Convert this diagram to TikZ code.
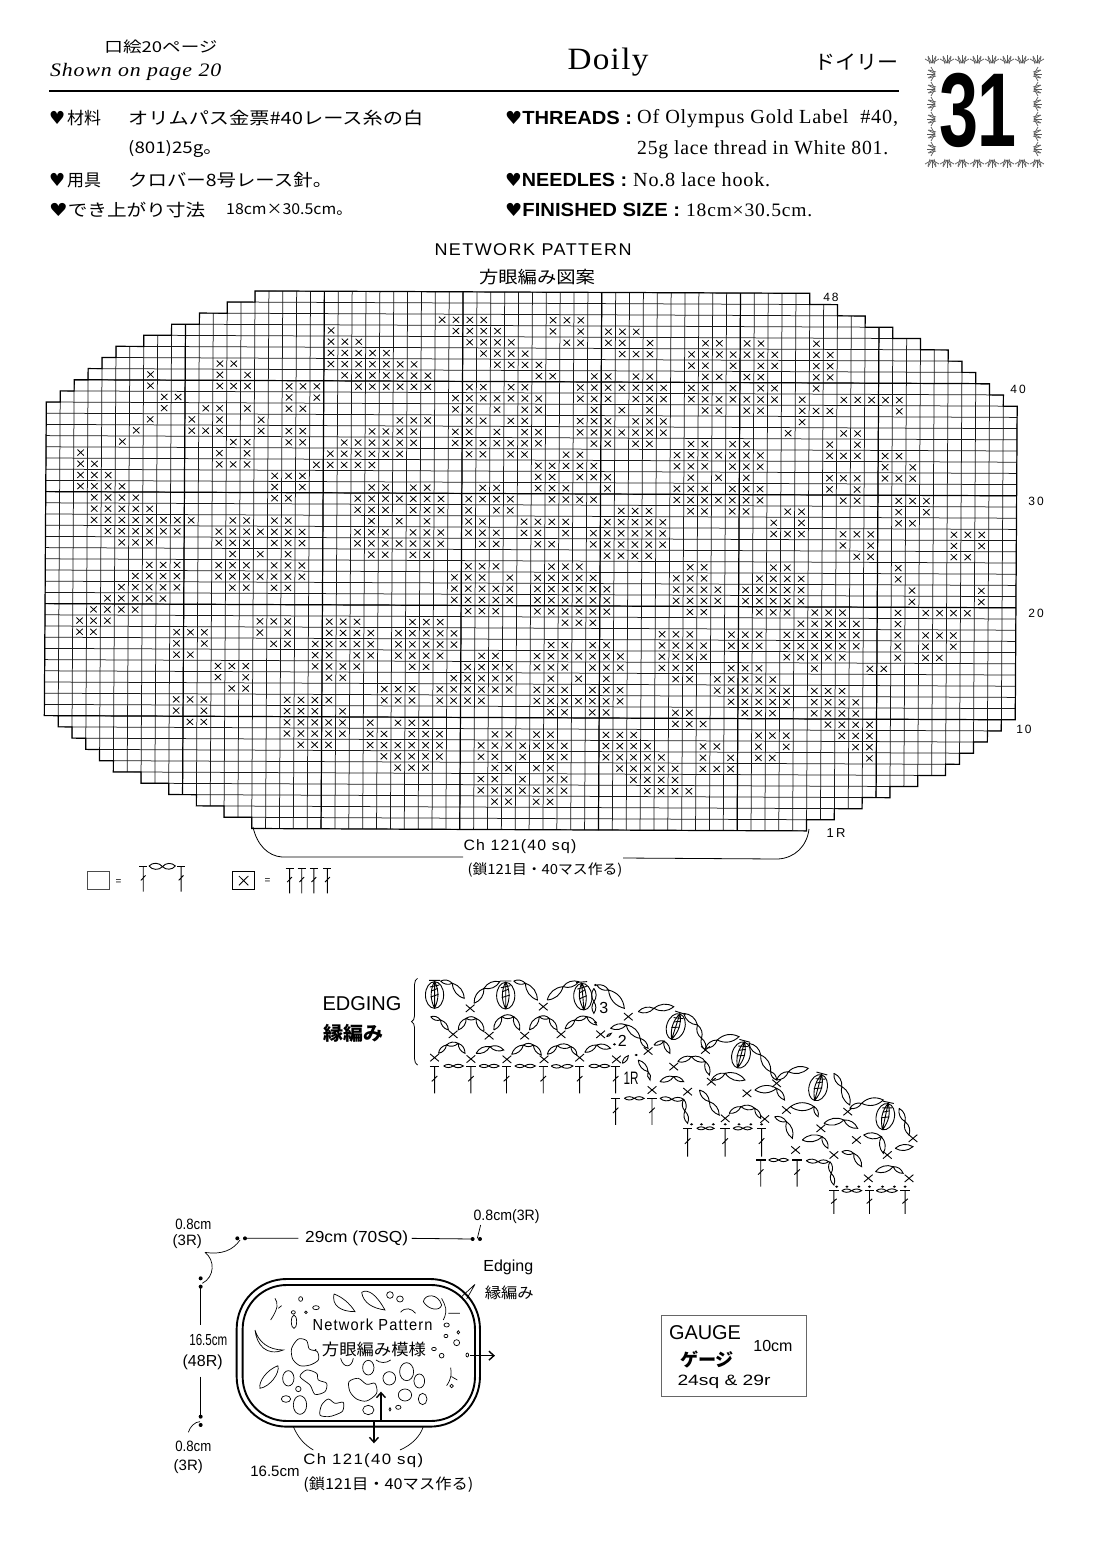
\documentclass[tikz,border=0pt]{standalone}
\usepackage{fontspec}
\setmainfont{Liberation Serif}
\setsansfont{Liberation Sans}
\newfontfamily\jpfont{Noto Sans CJK JP}
\newfontfamily\symfont{DejaVu Sans}
\newfontfamily\spserif{Liberation Serif}[LetterSpace=4]
\newfontfamily\spsans{Liberation Sans}[LetterSpace=8]
\usetikzlibrary{positioning,decorations.pathreplacing,arrows.meta}
\newcommand{\sz}[1]{\fontsize{#1}{#1}\selectfont}
\newcommand{\fitw}[2]{\resizebox{#1pt}{\height}{#2}}
\newcommand{\hrt}{{\symfont\sz{18}♥}}
\newcommand{\tstitch}[3]{%
  \draw[stitch] (#1,#2)--(#1,#2+#3) (#1-7,#2+#3*0.55)--(#1+7,#2+#3*0.35);
  \draw[line width=1.3pt] (#1-12,#2)--(#1+12,#2);}
\newcommand{\scstitch}[2]{%
  \draw[stitch] (#1-11,#2-11)--(#1+11,#2+11) (#1-11,#2+11)--(#1+11,#2-11);}
\newcommand{\shellst}[3]{%
  \begin{scope}[shift={(#1,#2)},rotate=#3]
    \draw[stitch] (0,0) ellipse [x radius=23,y radius=40];
    \draw[stitch] (0,-42) to[bend left=25] (0,40) (0,-42) to[bend right=25] (0,40) (0,-42)--(0,40);
    \draw[stitch] (-14,-44)--(14,-44) (-8,-12)--(8,-20) (-10,6)--(10,-2) (-12,-24)--(12,-30);
  \end{scope}}
\newcommand{\tulip}[3]{%
  \begin{scope}[shift={(#1,#2)},rotate=#3]
    \foreach \a in {-60,-30,0,30,60}
      \draw[ornament] (0,4)--++(\a-90:8);
    \draw[ornament] (-4,-2)--(-2,5) (4,-2)--(2,5);
  \end{scope}}
\def\stairpath{(15,0)--(15,1)--(13,1)--(13,2)--(11,2)--(11,3)--(9,3)--(9,4)--(7,4)--(7,5)--(5,5)--(5,6)--(4,6)--(4,7)--(3,7)--(3,8)--(2,8)--(2,9)--(1,9)--(1,10)--(0,10)
  --(0,38)--(1,38)--(1,39)--(2,39)--(2,40)--(3,40)--(3,41)--(4,41)--(4,42)--(5,42)--(5,43)--(7,43)--(7,44)--(9,44)--(9,45)--(11,45)--(11,46)--(13,46)--(13,47)--(15,47)--(15,48)
  --(55,48)--(55,47)--(57,47)--(57,46)--(59,46)--(59,45)--(61,45)--(61,44)--(63,44)--(63,43)--(65,43)--(65,42)--(66,42)--(66,41)--(67,41)--(67,40)--(68,40)--(68,39)--(69,39)--(69,38)--(70,38)
  --(70,10)--(69,10)--(69,9)--(68,9)--(68,8)--(67,8)--(67,7)--(66,7)--(66,6)--(65,6)--(65,5)--(63,5)--(63,4)--(61,4)--(61,3)--(59,3)--(59,2)--(57,2)--(57,1)--(55,1)--(55,0)--cycle}

\begin{document}
\begin{tikzpicture}[x=1pt,y=-1pt,
  txt/.style={inner sep=0,anchor=west},
  ctr/.style={inner sep=0,anchor=center},
  gridthin/.style={line width=0.75pt,black!90},
  gridthick/.style={line width=1.2pt,black},
  crossmark/.style={line width=0.8pt,black},
  stitch/.style={line width=0.9pt,black},
  chainloop/.style={line width=0.9pt,black},
  ornament/.style={line width=0.7pt,black!65},
  motif/.style={line width=0.7pt,black},
 ]
\useasboundingbox (0,0) rectangle (1100,1543);

% heading
\node[ctr] (pageja) at (161,47) {\fitw{113}{\jpfont\sz{15}口絵20ページ}};
\node[txt] (pageen) at (50,72) {\fitw{171}{\spserif\itshape\sz{19}Shown on page 20}};
\node[ctr] (title) at (608,62) {\fitw{81}{\spserif\sz{31}Doily}};
\node[ctr] (titleja) at (856,62) {\fitw{84}{\jpfont\sz{20}ドイリー}};
\draw[line width=1.1pt] (49,91)--(899,91);

% number panel
\foreach \x in {932,947,...,1037} {\tulip{\x}{59}{0} \tulip{\x}{164}{180}}
\foreach \y in {74,89,...,150} {\tulip{931}{\y}{90} \tulip{1038}{\y}{-90}}
\node[ctr] (number) at (978,110) {\fitw{78}{\bfseries\sffamily\sz{105}31}};

% materials
\node[txt] (matA) at (49,118) {\hrt\,\jpfont\sz{17}材料};
\node[txt] (matB) at (128,118) {\fitw{295}{\jpfont\sz{17}オリムパス金票\#40レース糸の白}};
\node[txt] (matC) at (128,149) {\fitw{94}{\jpfont\sz{16}(801)25g。}};
\node[txt] (toolA) at (49,180) {\hrt\,\jpfont\sz{17}用具};
\node[txt] (toolB) at (128,180) {\fitw{204}{\jpfont\sz{17}クロバー8号レース針。}};
\node[txt] (sizeA) at (49,210) {\fitw{156}{\hrt\jpfont\sz{17}でき上がり寸法}};
\node[txt] (sizeB) at (226,210) {\fitw{126}{\jpfont\sz{15}18cm×30.5cm。}};
\node[txt] (thrA) at (505,118) {\fitw{127}{\hrt\bfseries\sffamily\sz{19}THREADS :}};
\node[txt] (thrB) at (637,119) {\fitw{261}{\spserif\sz{20}Of Olympus Gold Label\ \ \#40,}};
\node[txt] (thrC) at (637,150) {\fitw{251}{\spserif\sz{20}25g lace thread in White 801.}};
\node[txt] (needA) at (505,180) {\fitw{122}{\hrt\bfseries\sffamily\sz{19}NEEDLES :}};
\node[txt] (needB) at (633,180) {\fitw{137}{\spserif\sz{20}No.8 lace hook.}};
\node[txt] (finA) at (505,210) {\fitw{175}{\hrt\bfseries\sffamily\sz{19}FINISHED SIZE :}};
\node[txt] (finB) at (686,210) {\fitw{126}{\spserif\sz{19}18cm×30.5cm.}};

\node[ctr] (nettitle) at (533,250) {\fitw{197}{\spsans\sz{17}NETWORK PATTERN}};
\node[ctr] (nettitleja) at (537,277) {\fitw{116}{\jpfont\sz{17}方眼編み図案}};

% chart
\begin{scope}[shift={(47,290)},x={(13.87pt,-0.06pt)},y={(-0.07pt,-11.2pt)}]
  \begin{scope}
    \clip \stairpath;
    \foreach \c in {0,...,70} \draw[gridthin] (\c,0)--(\c,48);
    \foreach \r in {0,...,48} \draw[gridthin] (0,\r)--(70,\r);
    \foreach \c in {10,20,...,60} \draw[gridthick] (\c,0)--(\c,48);
    \foreach \r in {8,18,28,38} \draw[gridthick] (0,\r)--(70,\r);
  \end{scope}
  \draw[gridthick] \stairpath;
  \foreach \t/\cols in {
    3/{29,30,31,32,37,38,39},
    4/{21,30,31,32,33,37,39,41,42,43},
    5/{21,22,23,31,32,33,34,38,39,41,42,44,48,49,51,52,56},
    6/{21,22,23,24,25,32,33,34,35,42,43,44,47,48,49,50,51,52,53,56,57},
    7/{13,14,21,22,23,24,25,26,27,33,34,35,36,47,48,50,52,53,56,57},
    8/{8,13,15,22,23,24,25,26,27,28,36,37,40,41,43,44,48,49,51,52,56,57},
    9/{8,13,14,15,18,19,20,23,24,25,26,27,28,31,32,34,35,39,40,41,42,43,44,45,47,48,50,52,53,56},
    10/{9,10,18,20,30,31,32,33,34,35,36,39,40,41,43,44,45,47,48,49,50,51,52,53,55,58,59,60,61,62},
    11/{9,12,13,15,18,19,30,31,33,35,36,40,42,44,48,49,51,52,55,56,57,62},
    12/{8,11,13,16,26,27,28,31,32,34,35,39,40,41,43,44,45,55},
    13/{7,11,12,13,16,18,19,24,25,26,27,30,31,33,35,36,39,40,41,42,43,44,45,54,58,59},
    14/{6,14,15,18,19,22,23,24,25,26,27,30,31,32,33,34,35,36,40,41,43,44,47,48,50,51,57,59},
    15/{3,13,15,21,22,23,24,25,26,31,32,34,35,38,39,46,47,48,49,50,51,52,57,58,59,61,62},
    16/{3,4,13,14,15,20,21,22,23,24,36,37,38,39,40,46,47,48,50,51,52,61,63},
    17/{3,4,5,17,18,19,36,37,39,40,41,47,49,51,57,58,59,61,62,63},
    18/{3,4,5,6,17,19,24,25,27,28,32,33,36,37,38,41,46,47,48,50,51,52,57,59},
    19/{4,5,6,7,17,18,23,24,25,26,27,28,29,31,32,33,34,37,38,39,40,46,47,48,49,50,51,52,58,59,62,63,64},
    20/{4,5,6,7,8,23,24,25,27,28,29,31,33,34,42,43,44,47,48,50,51,54,55,62,64},
    21/{4,5,6,7,8,9,10,11,14,15,17,18,24,26,28,31,32,35,36,37,38,41,42,43,44,45,53,55,62,63},
    22/{5,6,7,8,9,10,13,14,15,16,17,18,19,23,24,25,27,28,29,31,32,33,35,36,38,40,41,42,43,44,45,53,54,55,58,59,60,66,67,68},
    23/{6,7,8,13,14,15,17,18,19,23,24,25,26,27,28,29,32,33,36,37,40,41,42,43,44,45,58,60,66,68},
    24/{14,16,18,24,25,27,28,41,42,43,44,59,60,66,67},
    25/{8,9,10,13,14,15,17,18,19,31,32,33,37,38,39,47,48,53,54,62},
    26/{7,8,9,10,13,14,15,16,17,18,19,30,31,32,34,36,37,38,39,40,46,47,48,52,53,54,55,62},
    27/{6,7,8,9,10,14,15,17,18,30,31,32,33,34,36,37,38,39,40,41,46,47,48,49,51,52,53,54,55,63,68},
    28/{5,6,7,8,9,30,31,32,33,34,36,37,38,39,40,41,46,47,48,49,51,52,53,54,55,63,68},
    29/{4,5,6,7,31,32,33,36,37,38,39,40,41,47,48,52,53,54,56,57,58,62,64,65,66,67},
    30/{3,4,5,16,17,18,21,22,23,27,28,29,38,39,40,55,56,57,58,59,62},
    31/{3,4,10,11,12,16,18,21,22,23,24,26,27,28,29,30,45,46,47,50,51,52,54,55,56,57,58,59,62,64,65,66},
    32/{10,12,17,18,20,21,22,23,24,26,27,28,29,30,37,38,40,41,45,46,47,48,50,51,52,54,55,56,57,58,59,62,64,66},
    33/{10,11,20,21,23,24,26,27,28,29,32,33,36,37,38,39,40,41,42,45,46,47,48,54,55,56,57,58,62,64,65},
    34/{13,14,15,20,21,22,23,27,28,31,32,33,34,36,37,38,40,41,42,45,46,47,50,51,52,56,60,61},
    35/{13,15,21,22,30,31,32,33,34,37,39,41,46,47,49,50,51,52,53},
    36/{14,15,25,26,27,29,30,31,32,33,34,36,37,38,40,41,42,49,50,51,52,53,54,56,57,58},
    37/{10,11,12,18,19,20,21,25,26,27,29,30,31,32,36,37,38,39,40,41,42,50,51,52,53,54,56,57,58,59},
    38/{10,12,18,19,20,22,37,38,40,41,46,47,51,52,53,56,57,58,59},
    39/{11,12,18,19,20,21,22,24,26,27,28,46,47,48,57,58,59,60},
    40/{18,19,20,21,22,24,25,27,28,29,33,34,36,37,41,42,43,52,53,54,58,59,60},
    41/{19,20,21,24,25,26,27,28,29,32,33,34,35,36,37,38,41,42,43,44,48,49,52,54,59,60},
    42/{25,26,27,28,29,32,33,35,37,38,41,42,43,44,45,48,50,52,53,60},
    43/{26,27,28,33,34,36,37,42,43,44,45,46,48,49,50},
    44/{32,33,35,37,38,43,44,45,46},
    45/{32,33,34,35,36,37,38,44,45,46,47},
    46/{33,34,36,37}}
  {
    \foreach \c in \cols
      \draw[crossmark] (\c-0.73,\t-0.77)--(\c-0.27,\t-0.23) (\c-0.73,\t-0.23)--(\c-0.27,\t-0.77);
  }
\end{scope}

% row labels
\node[ctr] (rowA) at (831,297) {\sffamily\sz{12}4\,8};
\node[ctr] (rowB) at (1018,389) {\sffamily\sz{12}4\,0};
\node[ctr] (rowC) at (1036,501) {\sffamily\sz{12}3\,0};
\node[ctr] (rowD) at (1036,613) {\sffamily\sz{12}2\,0};
\node[ctr] (rowE) at (1024,729) {\sffamily\sz{12}1\,0};
\node[ctr] (rowF) at (836,833) {\sffamily\sz{13}1\,R};

% foundation chain
\coordinate (chainL) at (253,827);
\coordinate (chainR) at (809,829);
\node[ctr] (chtext) at (520,847) {\fitw{113}{\spsans\sz{15}Ch 121(40 sq)}};
\node[ctr] (chtextja) at (545,870) {\fitw{155}{\jpfont\sz{14}(鎖121目・40マス作る)}};
\draw[line width=0.8pt] (chainL) .. controls (257,845) and (268,856) .. (282,857)--(463,857);
\draw[line width=0.8pt] (623,858)--(778,859) .. controls (795,858) and (807,846) .. (chainR);

% symbol key
\begin{scope}[shift={(30,570)},x=0.338pt,y=-0.3333pt]
  \draw[line width=0.8pt,black!70] (170,903) rectangle (235,957);
  \node[ctr] (eqA) at (262,935) {\sffamily\sz{10}=};
  \tstitch{335}{890}{75}
  \tstitch{447}{890}{75}
  \draw[chainloop] (352,888) to[bend left=50] (392,890) to[bend left=50] (352,888);
  \draw[chainloop] (392,890) to[bend left=50] (430,888) to[bend left=50] (392,890);
  \draw[line width=0.9pt] (600,905) rectangle (663,958);
  \draw[crossmark] (618,918)--(646,946) (618,946)--(646,918);
  \node[ctr] (eqB) at (703,933) {\sffamily\sz{10}=};
  \foreach \x in {768,804,840,880} {\tstitch{\x}{895}{75}}
\end{scope}

% edging chart
\node[ctr] (edginglabel) at (362,1004) {\fitw{79}{\sffamily\sz{20}EDGING}};
\node[ctr] (edginglabelja) at (353,1033) {\fitw{60}{\jpfont\bfseries\sz{19}縁編み}};
\begin{scope}[shift={(310,965)},x=0.3954pt,y=-0.3333pt]
  \coordinate (bracelow) at (272,300);
  \coordinate (bracehigh) at (272,40);
  \draw[line width=0.8pt,decorate,decoration={brace,amplitude=6pt}] (bracelow)--(bracehigh);
  \foreach \x in {315,407,497,590,682,773} {\tstitch{\x}{305}{80}}
  \foreach \x in {773,865} {\tstitch{\x}{400}{80}}
  \foreach \x in {955,1050,1142} {\tstitch{\x}{490}{85}}
  \foreach \x in {1140,1232} {\tstitch{\x}{585}{80}}
  \foreach \x in {1325,1415,1505} {\tstitch{\x}{677}{70}}
  \foreach \x/\y in {315/278,407/282,498/283,592/283,682/278,775/283,362/208,453/212,543/212,635/208,735/208,
      405/130,590/125,805/155,1000/255,1180/355,1360/440,1525/520,855/258,920/305,1015/350,1105/385,1205/435,
      1292/490,1382/525,1460/570,865/375,955/380,1050/460,1150/462,1228/555,1325/570,1412/640,1515/640}
    {\scstitch{\x}{\y}}
  \foreach \x/\y/\a in {315/90/0,495/92/0,690/95/5,925/185/-18,1090/270/-15,1285/368/-15,1455/455/-12}
    {\shellst{\x}{\y}{\a}}
  \foreach \a/\b/\c/\d in {
    338/303/362/303, 362/303/388/303, 428/303/452/303, 452/303/478/303, 518/303/543/303, 543/303/570/303,
    610/303/636/305, 636/305/665/303, 705/303/732/303, 732/303/758/303,
    795/400/820/400, 820/400/845/400, 885/400/915/403, 915/403/945/403, 945/403/948/438, 948/438/955/475,
    978/490/1000/490, 1000/490/1022/490, 1070/490/1095/490, 1095/490/1118/490,
    1160/585/1185/585, 1185/585/1210/585, 1255/587/1285/590, 1285/590/1312/590, 1315/590/1318/625, 1318/625/1325/660,
    1345/677/1370/677, 1370/677/1395/677, 1432/677/1458/677, 1458/677/1485/677,
    325/265/345/240, 345/240/375/235, 375/235/392/265, 420/265/455/245, 455/245/490/255,
    510/268/540/240, 540/240/565/240, 565/240/585/270, 600/268/625/242, 625/242/660/245, 660/245/675/270,
    695/262/725/240, 725/240/760/250, 305/155/330/165, 330/165/350/195, 375/195/395/160, 395/160/420/160, 420/160/440/200,
    465/195/485/155, 485/155/515/155, 515/155/530/195, 555/195/580/155, 580/155/605/160, 605/160/625/195,
    645/192/670/165, 670/165/700/155, 700/155/725/180, 330/48/360/55, 360/55/390/100, 415/115/440/70, 440/70/480/50,
    515/48/545/55, 545/55/575/105, 600/105/640/65, 640/65/680/50, 725/60/755/75, 755/75/795/130,
    718/70/718/110, 718/110/718/145, 830/140/870/130, 870/130/920/125, 945/145/980/180, 980/180/990/220, 990/220/1000/255,
    1000/250/1030/225, 1030/225/1085/215, 1110/235/1140/270, 1140/270/1165/320, 1165/320/1180/345,
    1180/345/1210/320, 1210/320/1260/310, 1325/325/1345/365, 1345/365/1365/420, 1365/430/1395/415, 1395/415/1450/405,
    1490/430/1505/470, 1505/470/1515/510, 760/190/800/180, 800/180/835/220, 835/220/855/250, 870/240/895/228, 895/228/910/265,
    930/290/965/275, 965/275/1000/290, 1000/290/1010/330, 1015/345/1050/325, 1050/325/1100/345, 1125/375/1180/370, 1180/370/1200/405,
    1215/425/1275/425, 1275/425/1285/455, 1300/475/1350/465, 1350/465/1385/490, 1400/510/1445/515, 1445/515/1450/565,
    1480/550/1525/545, 830/285/855/320, 855/320/860/345, 885/350/920/335, 920/335/945/350,
    985/375/1010/410, 1010/410/1035/450, 1060/445/1090/425, 1090/425/1125/430, 1125/430/1140/460,
    1175/455/1205/470, 1205/470/1220/520, 1245/525/1295/515, 1295/515/1310/550, 1345/560/1375/565, 1375/565/1395/605,
    1430/620/1475/605, 1475/605/1500/625, 790/295/805/272, 750/215/762/205}
    {\draw[chainloop] (\a,\b) to[bend left=35] (\c,\d) to[bend left=35] (\a,\b);}
  \foreach \x/\y in {722/172,722/60,770/238,825/270,965/478,990/478,1020/478,1050/478,1085/478,1115/478,1142/478,
      1332/665,1358/665,1388/665,1415/665,1448/665,1478/665,1505/665}
    \fill (\x,\y) circle [x radius=4,y radius=3.5];
  \node[ctr] (rowthree) at (743,130) {\sffamily\sz{16}3};
  \node[ctr] (rowtwo) at (790,228) {\sffamily\sz{16}2};
  \node[ctr] (rowone) at (812,340) {\fitw{15}{\sffamily\sz{18}1R}};
\end{scope}

% layout sketch
\begin{scope}[shift={(150,1195)},x=0.3333pt,y=-0.3333pt]
  \coordinate (dimTLa) at (262,130);
  \coordinate (dimTLb) at (285,130);
  \coordinate (dimTRa) at (968,132);
  \coordinate (dimTRb) at (990,132);
  \coordinate (dimLTa) at (152,250);
  \coordinate (dimLTb) at (152,275);
  \coordinate (dimLBa) at (152,665);
  \coordinate (dimLBb) at (152,690);
  \foreach \p in {dimTLa,dimTLb,dimTRa,dimTRb,dimLTa,dimLTb,dimLBa,dimLBb}
    \fill (\p) circle [radius=6];
  \node[ctr] (widthtext) at (620,130) {\fitw{103}{\sffamily\sz{16}29cm (70SQ)}};
  \node[ctr] (cornerA) at (130,87) {\fitw{36}{\sffamily\sz{15}0.8cm}};
  \node[ctr] (cornerAb) at (112,140) {\sffamily\sz{15}(3R)};
  \node[ctr] (cornerB) at (1070,65) {\fitw{66}{\sffamily\sz{15}0.8cm(3R)}};
  \node[ctr] (heighttext) at (175,435) {\fitw{38}{\sffamily\sz{16}16.5cm}};
  \node[ctr] (heighttextb) at (158,503) {\sffamily\sz{16}(48R)};
  \node[ctr] (cornerC) at (130,755) {\fitw{36}{\sffamily\sz{15}0.8cm}};
  \node[ctr] (cornerCb) at (115,815) {\sffamily\sz{15}(3R)};
  \node[ctr] (edgingtext) at (1075,218) {\sffamily\sz{16}Edging};
  \node[ctr] (edgingtextja) at (1078,292) {\fitw{49}{\jpfont\sz{15}縁編み}};
  \draw[line width=0.8pt] (dimTLb)--(445,130) (785,130)--(dimTRa);
  \draw[line width=0.8pt] (dimLTb)--(152,390) (152,545)--(dimLBa);
  \draw[line width=0.7pt] (165,172) .. controls (215,180) and (250,165) .. (270,135);
  \draw[line width=0.7pt] (165,172) .. controls (195,195) and (195,245) .. (157,265);
  \draw[line width=0.7pt] (150,680) .. controls (135,680) and (120,695) .. (115,712);
  \draw[line width=0.7pt] (992,90)--(982,130);
  \draw[line width=0.7pt] (975,268)--(935,305) (975,268)--(950,312);
  \draw[line width=1.9pt,rounded corners=50pt] (260,252) rectangle (990,695);
  \draw[line width=1.9pt,rounded corners=44pt] (278,270) rectangle (975,678);
  \draw[line width=0.7pt] (430,695) .. controls (445,730) and (465,750) .. (490,765);
  \draw[line width=0.7pt] (820,695) .. controls (810,725) and (785,750) .. (750,765);
  \foreach \x/\y/\rx/\ry in {452/312/6/7,468/352/4/4,720/300/10/10,750/312/10/9,890/390/8/6,925/412/4/5,888/423/6/5,920/443/9/9,
      875/482/7/7,852/462/7/5,952/480/4/6,905/573/5/5,745/637/8/6,720/643/3/5,655/518/17/22,718/550/19/20,770/530/21/27,
      808/558/16/21,765/600/20/18,818/612/13/17,415/550/17/23,445/582/8/8,408/612/14/10,498/338/10/6}
    \draw[motif] (\x,\y) ellipse [x radius=\rx,y radius=\ry];
  \draw[motif] (430,352) ellipse [x radius=6,y radius=5] (432,380) ellipse [x radius=8,y radius=20];
  \draw[motif] (450,630) ellipse [x radius=20,y radius=28];
  \draw[motif] (655,645) ellipse [x radius=17,y radius=14];
  \draw[motif] (315,405) .. controls (320,450) and (350,485) .. (400,465) .. controls (355,465) and (325,440) .. (315,405);
  \draw[motif] (552,297) .. controls (545,330) and (570,350) .. (615,350) .. controls (600,325) and (575,305) .. (552,297);
  \draw[motif] (635,292) .. controls (655,280) and (680,300) .. (705,345) .. controls (670,340) and (640,325) .. (635,292);
  \draw[motif] (384,512) .. controls (350,525) and (325,560) .. (330,580) .. controls (360,575) and (390,535) .. (384,512);
  \draw[motif] plot[smooth cycle] coordinates {(425,460) (445,432) (470,437) (478,462) (502,470) (505,495) (480,510) (450,512) (428,492)};
  \draw[motif] plot[smooth cycle] coordinates {(450,545) (470,525) (500,535) (505,555) (530,565) (525,590) (495,598) (480,570)};
  \draw[motif] plot[smooth cycle] coordinates {(515,630) (535,612) (555,625) (580,622) (578,648) (555,660) (535,665) (510,660)};
  \draw[motif] plot[smooth cycle] coordinates {(597,560) (625,550) (650,568) (675,565) (680,595) (650,618) (620,612) (600,590)};
  \draw[motif] (820,320) .. controls (825,295) and (865,295) .. (875,330) .. controls (870,350) and (835,345) .. (820,320);
  \draw[motif] (875,310) .. controls (885,330) and (895,345) .. (880,375) (895,355)--(930,355);
  \draw[motif] (375,310) .. controls (385,325) and (385,340) .. (362,375) (385,340)--(395,332);
  \draw[motif] (752,352) .. controls (765,335) and (785,340) .. (797,355);
  \draw[motif] (572,490) .. controls (580,520) and (605,520) .. (610,490);
  \draw[motif] (678,495) .. controls (690,505) and (710,505) .. (722,495);
  \draw[motif] (902,518) .. controls (905,535) and (905,550) .. (890,572) (905,545)--(922,555);
  \node[ctr] (patternen) at (668,388) {\fitw{120}{\spsans\sz{16}Network Pattern}};
  \node[ctr] (patternja) at (672,462) {\fitw{104}{\jpfont\sz{16}方眼編み模様}};
  \fill (497,465) circle [radius=3];
  \coordinate (arrowA) at (960,482);
  \coordinate (arrowB) at (1035,482);
  \coordinate (arrowC) at (693,680);
  \coordinate (arrowD) at (693,590);
  \coordinate (arrowE) at (672,680);
  \coordinate (arrowF) at (672,745);
  \draw[line width=1.4pt,-{Straight Barb[length=5pt,width=9pt]}] (arrowA)--(arrowB);
  \draw[line width=1.4pt,-{Straight Barb[length=5pt,width=9pt]}] (arrowC)--(arrowD);
  \draw[line width=1.4pt,-{Straight Barb[length=5pt,width=9pt]}] (arrowE)--(arrowF);
  \node[ctr] (chlabel) at (640,797) {\fitw{120}{\spsans\sz{15}Ch 121(40 sq)}};
  \node[ctr] (widthlabel) at (375,830) {\sffamily\sz{15}16.5cm};
  \node[ctr] (chlabelja) at (715,868) {\fitw{170}{\jpfont\sz{15}(鎖121目・40マス作る)}};
\end{scope}

% gauge box
\draw[line width=0.7pt,black!60] (661,1315) rectangle (806,1396);
\node[ctr] (gaugetitle) at (705,1333) {\fitw{72}{\sffamily\sz{20}GAUGE}};
\node[ctr] (gaugetitleja) at (707,1359) {\fitw{54}{\jpfont\bfseries\sz{18}ゲージ}};
\node[ctr] (gaugeten) at (773,1346) {\sffamily\sz{16}10cm};
\node[ctr] (gaugecount) at (724,1382) {\fitw{93}{\sffamily\sz{15}24sq \& 29r}};
\end{tikzpicture}
\end{document}
